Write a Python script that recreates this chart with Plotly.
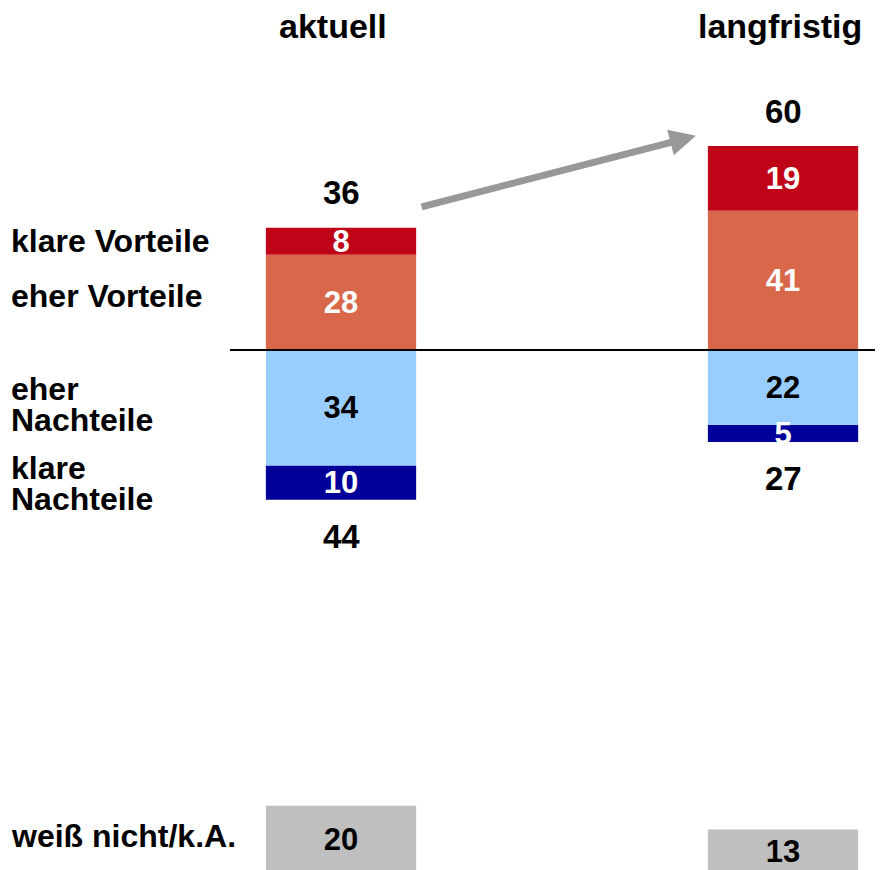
import plotly.graph_objects as go

# data
columns = ["aktuell", "langfristig"]
klare_vorteile = [8, 19]
eher_vorteile = [28, 41]
eher_nachteile = [34, 22]
klare_nachteile = [10, 5]
weiss_nicht = [20, 13]
total_vorteile = [36, 60]
total_nachteile = [44, 27]

FONT = "Liberation Sans, Arial, sans-serif"
BAR_W = 0.34
W, H = 875, 862  # page adds an 8px body margin

fig = go.Figure()


def add_segment(values, sign, color, textcolor, name):
    fig.add_trace(go.Bar(
        x=columns,
        y=[sign * v for v in values],
        name=name,
        width=BAR_W,
        marker=dict(color=color, line=dict(width=0)),
        text=[str(v) for v in values],
        textposition="inside",
        insidetextanchor="middle",
        textangle=0,
        constraintext="none",
        textfont=dict(family=FONT, size=31, color=textcolor, weight="bold"),
        showlegend=False))


add_segment(eher_vorteile, 1, "#D9674A", "white", "eher Vorteile")
add_segment(klare_vorteile, 1, "#C00418", "white", "klare Vorteile")
add_segment(eher_nachteile, -1, "#99CCFF", "black", "eher Nachteile")
add_segment(klare_nachteile, -1, "#000099", "white", "klare Nachteile")

# weiß nicht / k.A., drawn at the bottom on its own base
fig.add_trace(go.Bar(
    x=columns,
    y=weiss_nicht,
    base=-154,
    width=BAR_W,
    marker=dict(color="#BFBFBF", line=dict(width=0)),
    text=[str(v) for v in weiss_nicht],
    textposition="inside",
    insidetextanchor="middle",
    textangle=0,
    constraintext="none",
    textfont=dict(family=FONT, size=31, color="black", weight="bold"),
    showlegend=False))

bold = dict(family=FONT, color="black", weight="bold")

# totals
for c, tv, tn in zip(columns, total_vorteile, total_nachteile):
    fig.add_annotation(x=c, y=tv, text=str(tv), showarrow=False,
                       yshift=35, font=dict(bold, size=33))
    fig.add_annotation(x=c, y=-tn, text=str(tn), showarrow=False,
                       yshift=-37, font=dict(bold, size=33))

# column headers
fig.add_annotation(x=columns[0], y=1 - 18 / H, yref="paper", yanchor="middle",
                   xshift=-8, text="aktuell", showarrow=False,
                   font=dict(bold, size=34))
fig.add_annotation(x=columns[1], y=1 - 18 / H, yref="paper", yanchor="middle",
                   xshift=-3, text="langfristig", showarrow=False,
                   font=dict(bold, size=34))

# row labels on the left, aligned with the first column's segments
left = dict(xref="paper", x=1 / W, xanchor="left", yanchor="middle",
            showarrow=False, font=dict(bold, size=32))
fig.add_annotation(y=total_vorteile[0] - klare_vorteile[0] / 2,
                   text="klare Vorteile", **left)
fig.add_annotation(y=eher_vorteile[0] / 2 + 2, text="eher Vorteile", **left)
y_en = -eher_nachteile[0] / 2 + 1
fig.add_annotation(y=y_en, yshift=15, text="eher", **left)
fig.add_annotation(y=y_en, yshift=-16, text="Nachteile", **left)
y_kn = -eher_nachteile[0] - klare_nachteile[0] / 2
fig.add_annotation(y=y_kn, yshift=15, text="klare", **left)
fig.add_annotation(y=y_kn, yshift=-16, text="Nachteile", **left)
fig.add_annotation(y=-154 + weiss_nicht[0] / 2, yshift=4,
                   text="weiß nicht/k.A.", **left)

# trend arrow
fig.add_annotation(x=0.803, y=63, ax=0.179, ay=42, xref="x", yref="y",
                   axref="x", ayref="y", text="", showarrow=True,
                   arrowhead=2, arrowsize=0.75, arrowwidth=7,
                   arrowcolor="#989898")

# zero line
fig.add_shape(type="line", xref="paper", x0=222 / W, x1=1, y0=0, y1=0,
              line=dict(color="black", width=2))

fig.update_layout(
    width=W, height=H,
    margin=dict(l=0, r=0, t=0, b=0),
    barmode="relative",
    plot_bgcolor="white", paper_bgcolor="white",
    xaxis=dict(visible=False, range=[-0.7534, 1.2262]),
    yaxis=dict(visible=False, range=[-152.9, 100.6]))

fig.write_html("out.html")
